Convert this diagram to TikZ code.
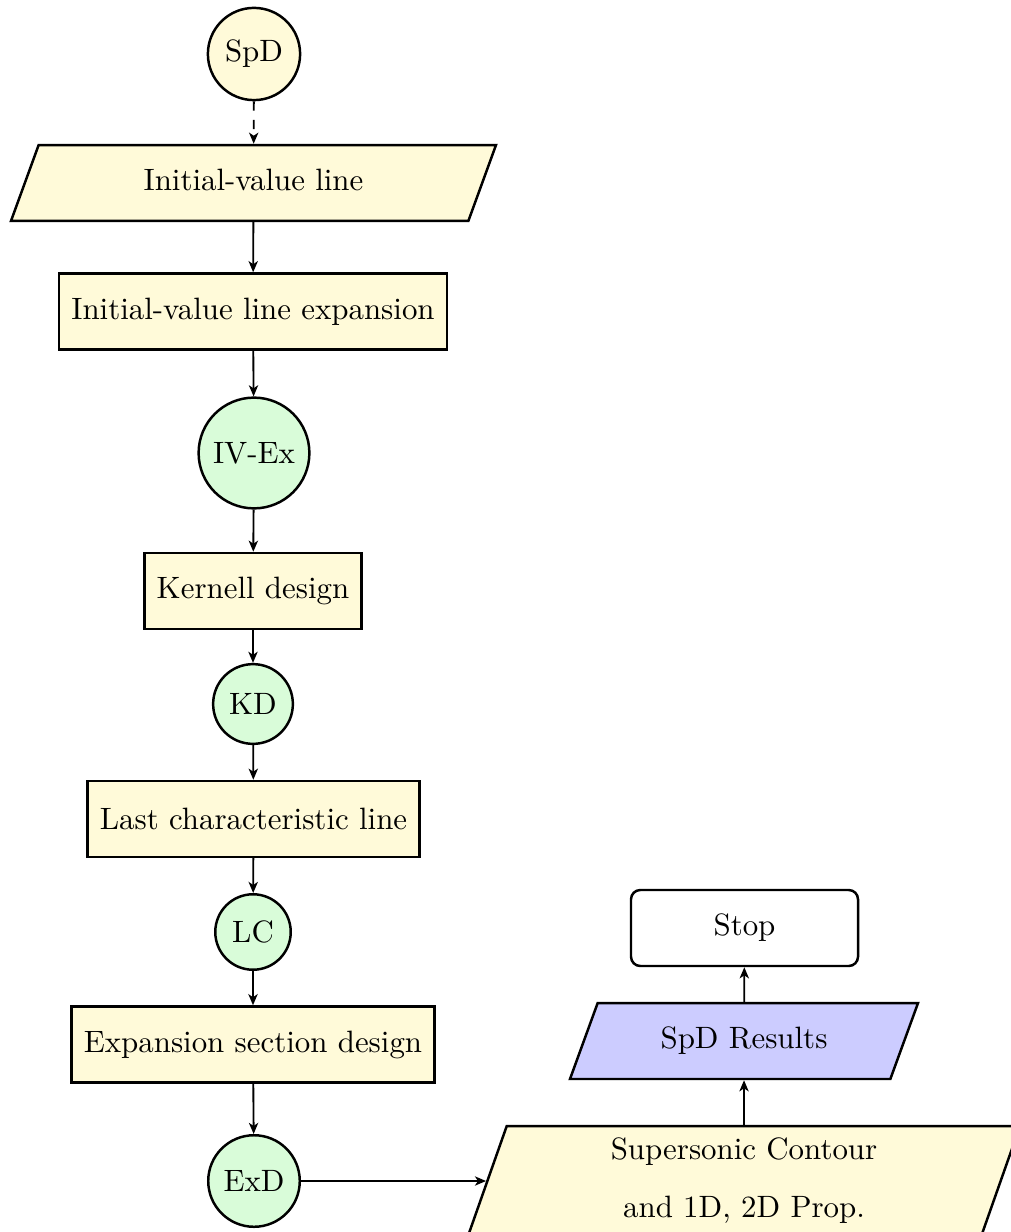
\documentclass[tikz,border=0pt]{standalone}
\usetikzlibrary{shapes.geometric,arrows.meta}
\newdimen\pxu
\pxu=0.32365pt
\definecolor{procfill}{RGB}{255,250,217}
\definecolor{connfill}{RGB}{217,252,217}
\definecolor{resfill}{RGB}{204,204,255}
\tikzset{
  base/.style={draw, thick, font=\normalsize},
  startnode/.style={base, circle, fill=procfill, inner sep=3.33pt},
  connnode/.style={base, circle, fill=connfill, inner sep=3.33pt},
  procnode/.style={base, rectangle, fill=procfill, minimum height=76\pxu, inner xsep=4pt},
  ionode/.style={base, trapezium, trapezium left angle=70, trapezium right angle=110,
    trapezium stretches body, fill=procfill,
    text height=6.94pt, text depth=1.94pt, inner ysep=7.85pt},
  resnode/.style={ionode, fill=resfill},
  termnode/.style={base, rectangle, rounded corners=3pt, fill=white,
    minimum height=76\pxu, minimum width=227\pxu},
  arr/.style={-{Stealth[length=3.6pt, width=3pt, inset=1pt]}, semithick},
}
\begin{document}
\begin{tikzpicture}[x=0.32365pt, y=-0.32365pt]
  \useasboundingbox (0,0) rectangle (1011,1232);

  % main column
  \node[startnode] (spd) at (254,54) {SpD};
  \node[ionode, minimum width=485\pxu] (ivl) at (253.5,183) {Initial-value line};
  \node[procnode] (ivle) at (253,311.5) {Initial-value line expansion};
  \node[connnode] (ivex) at (254,453) {IV-Ex};
  \node[procnode] (kern) at (253,591) {Kernell design};
  \node[connnode] (kd) at (253,704) {KD};
  \node[procnode] (lcl) at (253.5,819) {Last characteristic line};
  \node[connnode] (lc) at (253,932) {LC};
  \node[procnode] (exp) at (253,1044.5) {Expansion section design};
  \node[connnode] (exd) at (254,1181) {ExD};

  % output column
  \node[ionode, text height=, text depth=, inner ysep=3.33pt, minimum width=552\pxu,
    minimum height=110\pxu, align=center] (sc) at (744,1181)
    {Supersonic Contour\\[6.8pt]and 1D, 2D Prop.};
  \node[resnode, minimum width=348\pxu] (res) at (744,1041) {SpD Results};
  \node[termnode] (stop) at (744.5,928) {Stop};

  % connectors
  \draw[arr, dashed] (spd) -- (ivl);
  \draw[arr] (ivl) -- (ivle);
  \draw[arr] (ivle) -- (ivex);
  \draw[arr] (ivex) -- (kern);
  \draw[arr] (kern) -- (kd);
  \draw[arr] (kd) -- (lcl);
  \draw[arr] (lcl) -- (lc);
  \draw[arr] (lc) -- (exp);
  \draw[arr] (exp) -- (exd);
  \draw[arr] (exd) -- (sc);
  \draw[arr] (sc) -- (res);
  \draw[arr] (res) -- (stop);
\end{tikzpicture}
\end{document}
